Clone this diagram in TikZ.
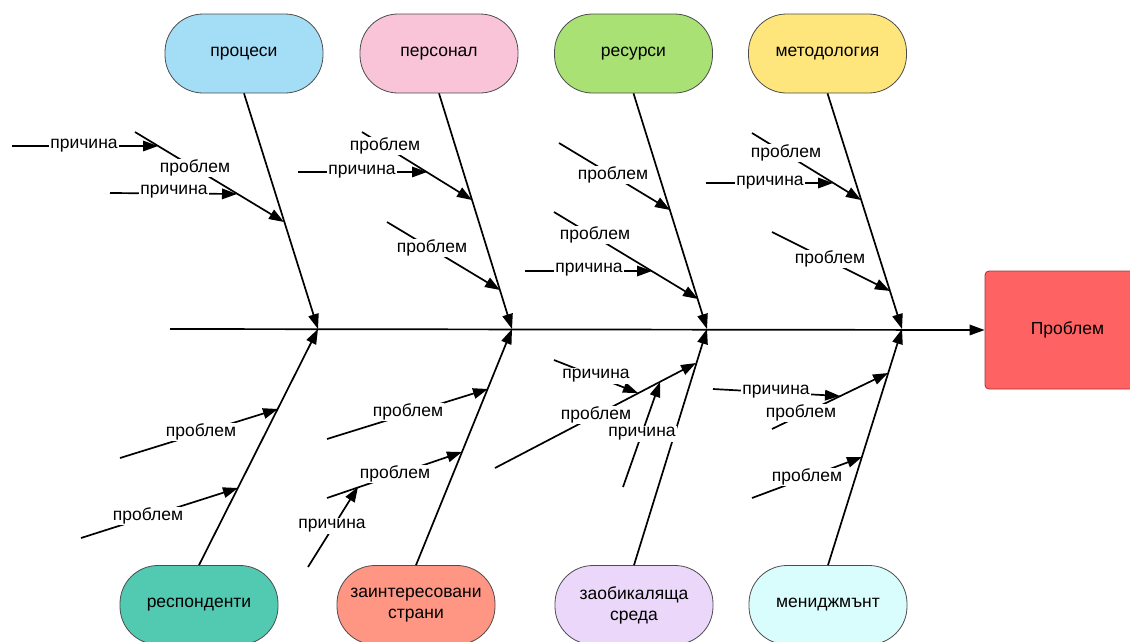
\documentclass[tikz,border=0pt]{standalone}
\usepackage{fontspec}
\setmainfont{Liberation Sans}
\usetikzlibrary{arrows.meta}
\definecolor{cProc}{HTML}{A4DDF6}
\definecolor{cPers}{HTML}{F9C4D7}
\definecolor{cRes}{HTML}{A9E175}
\definecolor{cMet}{HTML}{FFE67C}
\definecolor{cResp}{HTML}{52C9B1}
\definecolor{cZint}{HTML}{FF9683}
\definecolor{cZaob}{HTML}{EAD7FA}
\definecolor{cMen}{HTML}{D9FDFD}
\definecolor{cProb}{HTML}{FF6262}
\definecolor{cProbB}{HTML}{A83232}
\begin{document}
\begin{tikzpicture}[x=1pt,y=-1pt,
  bone/.style={line width=1.7pt,-{Triangle[length=15pt,width=10.5pt]}},
  lbl/.style={fill=white,inner sep=1pt,font=\fontsize{17.5}{20}\selectfont},
  cat/.style={draw=black!70,line width=0.8pt,rounded corners=38pt,minimum width=158pt,minimum height=79pt,align=center,inner sep=2pt,font=\fontsize{17.5}{21}\selectfont},
  probbox/.style={draw=cProbB,fill=cProb,line width=0.8pt,rounded corners=4pt,minimum width=165pt,minimum height=118pt,font=\fontsize{17.5}{21}\selectfont}
]
\useasboundingbox (0,0) rectangle (1130,641);
\clip (0,0) rectangle (1130,641);

% category boxes
\node[cat,fill=cProc] (c1) at (244,53.5) {процеси};
\node[cat,fill=cPers] (c2) at (439,53.5) {персонал};
\node[cat,fill=cRes]  (c3) at (633.5,53.5) {ресурси};
\node[cat,fill=cMet]  (c4) at (827.5,53.5) {методология};
\node[cat,fill=cResp] (d1) at (199,605) {респонденти};
\node[cat,fill=cZint] (d2) at (416,605) {заинтересовани\\страни};
\node[cat,fill=cZaob] (d3) at (634,605) {заобикаляща\\среда};
\node[cat,fill=cMen]  (d4) at (828,605) {мениджмънт};
\node[probbox] (prob) at (1067.5,330) {Проблем};

% spine and bones
\coordinate (s0) at (170,329);
\coordinate (j1) at (318,329);
\coordinate (j2) at (512,329);
\coordinate (j3) at (707,329);
\coordinate (j4) at (902,329);
\draw[bone] (s0) -- (prob.west);
\draw[bone] (c1.south) -- (j1);
\draw[bone] (c2.south) -- (j2);
\draw[bone] (c3.south) -- (j3);
\draw[bone] (c4.south) -- (j4);
\draw[bone] (d1.north) -- (j1);
\draw[bone] (d2.north) -- (j2);
\draw[bone] (d3.north) -- (j3);
\draw[bone] (d4.north) -- (j4);

% sub-branch end points
\coordinate (p1a0) at (135,132); \coordinate (p1a1) at (284,222);
\coordinate (p1b0) at (12,146);  \coordinate (p1b1) at (158,146);
\coordinate (p1c0) at (110,193); \coordinate (p1c1) at (237,194);
\coordinate (p2a0) at (362,132); \coordinate (p2a1) at (472,200);
\coordinate (p2b0) at (298,172); \coordinate (p2b1) at (427,172);
\coordinate (p2c0) at (387,222); \coordinate (p2c1) at (500,290);
\coordinate (p3a0) at (559,143); \coordinate (p3a1) at (670,210);
\coordinate (p3b0) at (554,212); \coordinate (p3b1) at (698,299);
\coordinate (p3c0) at (525,271); \coordinate (p3c1) at (652,271);
\coordinate (p4a0) at (752,133); \coordinate (p4a1) at (861,200);
\coordinate (p4b0) at (706,183); \coordinate (p4b1) at (833,183);
\coordinate (p4c0) at (772,232); \coordinate (p4c1) at (890,291);
\coordinate (b1a0) at (120,458); \coordinate (b1a1) at (278,409);
\coordinate (b1b0) at (81,538);  \coordinate (b1b1) at (238,488);
\coordinate (b2a0) at (327,439); \coordinate (b2a1) at (488,389);
\coordinate (b2b0) at (327,498); \coordinate (b2b1) at (462,452);
\coordinate (b2c0) at (308,567); \coordinate (b2c1) at (358,487);
\coordinate (b3a0) at (495,468); \coordinate (b3a1) at (696,363);
\coordinate (b3b0) at (554,360); \coordinate (b3b1) at (638,393);
\coordinate (b3c0) at (623,487); \coordinate (b3c1) at (660,382);
\coordinate (b4a0) at (772,429); \coordinate (b4a1) at (888,373);
\coordinate (b4b0) at (713,389); \coordinate (b4b1) at (840,396);
\coordinate (b4c0) at (752,498); \coordinate (b4c1) at (862,457);

\foreach \n in {p1a,p1b,p1c,p2a,p2b,p2c,p3a,p3b,p3c,p4a,p4b,p4c,
                b1a,b1b,b2a,b2b,b2c,b3a,b3b,b3c,b4a,b4b,b4c}{
  \draw[bone] (\n0) -- (\n1);
}

% labels
\node[lbl] (l1) at (84,146)  {причина};
\node[lbl] (l2) at (195,168) {проблем};
\node[lbl] (l3) at (174,192) {причина};
\node[lbl] (l4) at (385,146) {проблем};
\node[lbl] (l5) at (362,172) {причина};
\node[lbl] (l6) at (432,248) {проблем};
\node[lbl] (l7) at (613,175) {проблем};
\node[lbl] (l8) at (595,235) {проблем};
\node[lbl] (l9) at (589,270) {причина};
\node[lbl] (l10) at (786,153) {проблем};
\node[lbl] (l11) at (770,183) {причина};
\node[lbl] (l12) at (830,259) {проблем};
\node[lbl] (l13) at (201,432) {проблем};
\node[lbl] (l14) at (148,516) {проблем};
\node[lbl] (l15) at (408,412) {проблем};
\node[lbl] (l16) at (395,474) {проблем};
\node[lbl] (l17) at (332,526) {причина};
\node[lbl] (l18) at (596,376) {причина};
\node[lbl] (l19) at (596,415) {проблем};
\node[lbl] (l20) at (642,434) {причина};
\node[lbl] (l21) at (776,392) {причина};
\node[lbl] (l22) at (801,413) {проблем};
\node[lbl] (l23) at (807,477) {проблем};
\end{tikzpicture}
\end{document}
